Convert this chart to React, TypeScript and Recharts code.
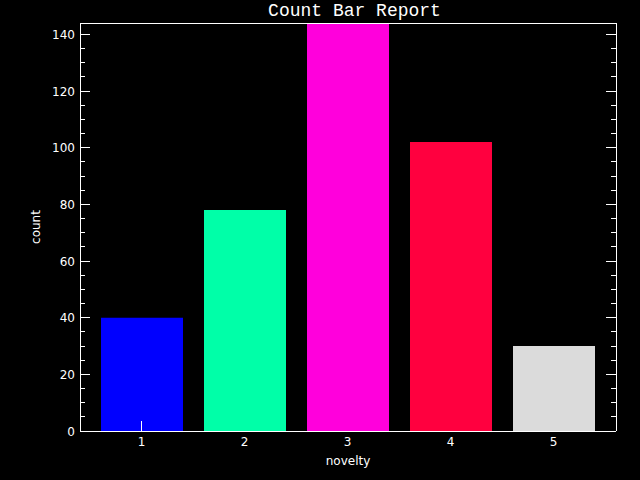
import React from "react";
import { ComposedChart, Bar, Line, XAxis, YAxis, Cell } from "recharts";

// values
const noveltyLevels = ["1", "2", "3", "4", "5"];
const counts = [40, 78, 144, 102, 30];
const barColors = ["#0000ff", "#00ffa8", "#ff00dc", "#ff003f", "#dbdbdb"];

const yTicks = [0, 5, 10, 15, 20, 25, 30, 35, 40, 45, 50, 55, 60, 65, 70, 75, 80, 85, 90, 95, 100, 105, 110, 115, 120, 125, 130, 135, 140];
const yMajorLabels = [0, 20, 40, 60, 80, 100, 120, 140];
const yMax = 144;

const data = noveltyLevels.map((n, i) => ({ novelty: n, count: counts[i] }));

const tickFont = "DejaVu Sans, sans-serif";
const axisStyle = { stroke: "#fff", shapeRendering: "crispEdges" };

// left axis: long tick on labelled values, short tick otherwise
const LeftTick = (props: any) => {
  const { x, y, payload } = props;
  const major = yMajorLabels.includes(payload.value);
  return (
    <g>
      <line x1={x} y1={y} x2={x + (major ? 10 : 5)} y2={y} stroke="#fff" shapeRendering="crispEdges" />
      {major && (
        <text x={x - 5} y={y} dy={4.5} textAnchor="end" fill="#fff" fontSize={12} fontFamily={tickFont}>
          {payload.value}
        </text>
      )}
    </g>
  );
};

const RightTick = (props: any) => {
  const { x, y, payload } = props;
  const major = yMajorLabels.includes(payload.value);
  return <line x1={x} y1={y} x2={x - (major ? 10 : 5)} y2={y} stroke="#fff" shapeRendering="crispEdges" />;
};

const BottomTick = (props: any) => {
  const { x, y, payload, index } = props;
  return (
    <g>
      {index === 0 && <line x1={x} y1={y} x2={x} y2={y - 10} stroke="#fff" shapeRendering="crispEdges" />}
      <text x={x} y={y + 15} textAnchor="middle" fill="#fff" fontSize={12} fontFamily={tickFont}>
        {payload.value}
      </text>
    </g>
  );
};

export default function App() {
  return (
    <div style={{ position: "absolute", left: 0, top: 0, width: 640, height: 480, background: "#000" }}>
      <div
        style={{
          position: "absolute",
          left: 0,
          top: 2,
          width: 709,
          textAlign: "center",
          color: "#fff",
          fontFamily: "Liberation Mono, monospace",
          fontSize: 18,
          lineHeight: "18px",
        }}
      >
        Count Bar Report
      </div>
      <ComposedChart width={640} height={480} data={data} margin={{ top: 22, right: 23, left: 0, bottom: 0 }}>
        <Bar dataKey="count" xAxisId="main" yAxisId="left" barSize={82} isAnimationActive={false}>
          {data.map((d, i) => (
            <Cell key={d.novelty} fill={barColors[i]} />
          ))}
        </Bar>
        {/* invisible series so the right-hand frame axis gets its ticks */}
        <Line dataKey="count" xAxisId="main" yAxisId="right" stroke="none" dot={false} activeDot={false} isAnimationActive={false} />
        <XAxis
          xAxisId="main"
          dataKey="novelty"
          type="category"
          height={49}
          padding={{ left: 10, right: 11 }}
          interval={0}
          tickLine={false}
          tickSize={0}
          tickMargin={0}
          axisLine={axisStyle}
          tick={<BottomTick />}
          label={{ value: "novelty", position: "center", dy: 5, fill: "#fff", fontSize: 12, fontFamily: tickFont }}
        />
        <XAxis
          xAxisId="top"
          dataKey="novelty"
          orientation="top"
          height={1}
          tick={false}
          tickLine={false}
          axisLine={axisStyle}
        />
        <YAxis
          yAxisId="left"
          type="number"
          domain={[0, yMax]}
          ticks={yTicks}
          interval={0}
          width={80}
          tickLine={false}
          tickSize={0}
          tickMargin={0}
          axisLine={axisStyle}
          tick={<LeftTick />}
          label={{ value: "count", angle: -90, position: "center", dx: -4.5, fill: "#fff", fontSize: 12, fontFamily: tickFont }}
        />
        <YAxis
          yAxisId="right"
          orientation="right"
          width={1}
          type="number"
          domain={[0, yMax]}
          ticks={yTicks}
          interval={0}
          tickLine={false}
          tickSize={0}
          tickMargin={0}
          axisLine={axisStyle}
          tick={<RightTick />}
        />
      </ComposedChart>
    </div>
  );
}
